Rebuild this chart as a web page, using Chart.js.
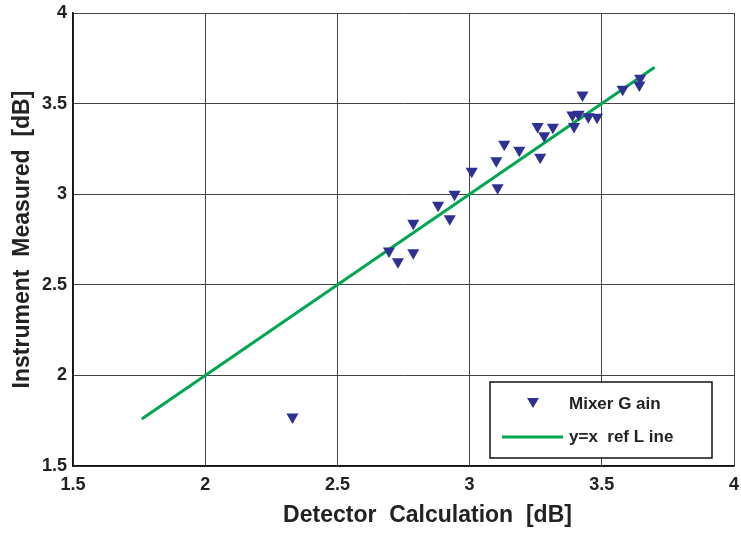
<!DOCTYPE html>
<html>
<head>
<meta charset="utf-8">
<script src="https://cdn.jsdelivr.net/npm/chart.js@4/dist/chart.umd.min.js"></script>
<style>
  html,body{margin:0;padding:0;background:#fff;}
  #wrap{width:741px;height:533px;}
</style>
</head>
<body>
<div id="wrap"><canvas id="c" width="741" height="533"></canvas></div>
<script>
// measured points
const detX = [2.695, 2.729, 2.787, 2.787, 2.881, 2.925, 2.943, 3.008, 3.106, 3.101, 3.131, 3.188,
  3.257, 3.282, 3.267, 3.315, 3.389, 3.395, 3.412, 3.427, 3.449, 3.482, 3.579, 3.642, 3.645, 2.330];
const measY = [2.687, 2.627, 2.677, 2.839, 2.939, 2.865, 3.000, 3.126, 3.036, 3.185, 3.275, 3.242,
  3.373, 3.323, 3.204, 3.369, 3.437, 3.373, 3.441, 3.547, 3.428, 3.424, 3.579, 3.603, 3.640, 1.770];
const refX = [1.76, 3.70];
const refY = [1.76, 3.70];
const ticks = [1.5, 2, 2.5, 3, 3.5, 4];

const BLUE = '#2e3192', GREEN = '#00a650';
const font = {family:'"Liberation Sans", Arial, sans-serif', weight:'bold'};

const legendBox = {
  id:'legendBox',
  afterDraw(chart){
    const c = chart.ctx;
    c.save();
    c.fillStyle = '#fff';
    c.fillRect(490, 382, 222, 76);
    c.strokeStyle = '#111'; c.lineWidth = 1.5;
    c.strokeRect(490, 382, 222, 76);
    // marker
    c.fillStyle = BLUE;
    c.beginPath();
    c.moveTo(527, 398); c.lineTo(539, 398); c.lineTo(533, 408); c.closePath(); c.fill();
    // line
    c.strokeStyle = GREEN; c.lineWidth = 3;
    c.beginPath(); c.moveTo(502, 437); c.lineTo(563, 437); c.stroke();
    c.fillStyle = '#222';
    c.font = 'bold 17px "Liberation Sans", Arial, sans-serif';
    c.textBaseline = 'middle';
    c.fillText('Mixer G ain', 569, 404);
    c.fillText('y=x  ref L ine', 569, 437);
    c.restore();
  }
};

new Chart(document.getElementById('c'), {
  type:'scatter',
  data:{
    datasets:[
      {
        label:'Mixer G ain',
        data: detX.map((x,i)=>({x, y:measY[i]})),
        pointStyle:'triangle', rotation:180, radius:7,
        backgroundColor:BLUE, borderColor:BLUE, borderWidth:0
      },
      {
        label:'y=x  ref L ine',
        data: refX.map((x,i)=>({x, y:refY[i]})),
        showLine:true, pointRadius:0, borderColor:GREEN, borderWidth:3
      }
    ]
  },
  options:{
    responsive:false, animation:false,
    layout:{padding:{top:13, right:5, left:0, bottom:0}},
    plugins:{legend:{display:false}, tooltip:{enabled:false}},
    scales:{
      x:{
        type:'linear', min:1.5, max:4,
        afterBuildTicks(s){ s.ticks = ticks.map(v=>({value:v})); },
        afterFit(s){
          s.height = 67;
          s.paddingRight = 0;
          // title sits a bit right of centre in the original
          if (!s._shifted){
            const orig = s.drawTitle.bind(s);
            s.drawTitle = function(){ const c = this.ctx; c.save(); c.translate(24, 0); orig(); c.restore(); };
            s._shifted = true;
          }
        },
        grid:{color:'#444', lineWidth:1, drawTicks:false},
        border:{color:'#111', width:1.5},
        ticks:{color:'#222', font:{...font, size:18}, padding:8, callback:v=>String(v)},
        title:{display:true, text:'Detector  Calculation  [dB]', color:'#222', font:{...font, size:23}, padding:{top:0, bottom:4}}
      },
      y:{
        type:'linear', min:1.5, max:4,
        afterBuildTicks(s){ s.ticks = ticks.map(v=>({value:v})); },
        afterFit(s){ s.width = 73; s.paddingTop = 0; s.paddingBottom = 0; },
        grid:{color:'#444', lineWidth:1, drawTicks:false},
        border:{color:'#111', width:1.5},
        ticks:{color:'#222', font:{...font, size:18}, padding:6, callback:v=>String(v)},
        title:{display:true, text:'Instrument  Measured  [dB]', color:'#222', font:{...font, size:23}, padding:{top:9, bottom:0}}
      }
    }
  },
  plugins:[legendBox]
});
</script>
</body>
</html>
